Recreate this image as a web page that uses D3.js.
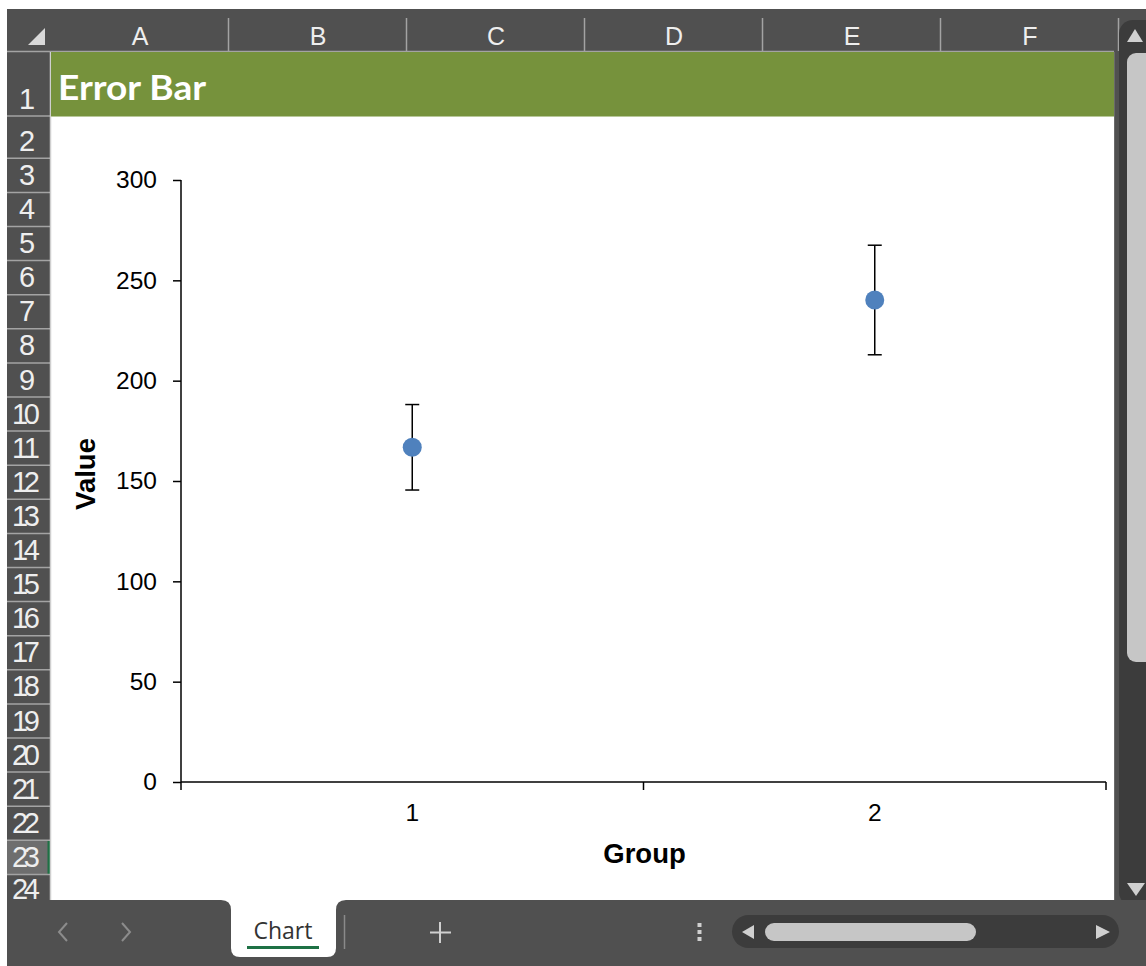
<!DOCTYPE html>
<html>
<head>
<meta charset="utf-8">
<script src="https://cdn.jsdelivr.net/npm/d3@7"></script>
<style>
  html, body { margin: 0; padding: 0; background: #ffffff; }
  svg { display: block; }
</style>
</head>
<body>
<div id="chart"></div>
<script>
// ---- data ----
const title = "Error Bar";
const categories = ["1", "2"];
const means = [166.8, 240.2];
const errors = [21.3, 27.3];
const yTicks = [0, 50, 100, 150, 200, 250, 300];
const xLabel = "Group";
const yLabel = "Value";
const columnLetters = ["A", "B", "C", "D", "E", "F"];
const rowNumbers = d3.range(1, 25);
const sheetName = "Chart";

const W = 1146, H = 966;
const svg = d3.select("#chart").append("svg").attr("width", W).attr("height", H);

const darkGray = "#505050";
const sepGray = "#a3a3a3";
const hdrText = "#eeeeee";

// ---- spreadsheet chrome ----
svg.append("rect").attr("x", 0).attr("y", 0).attr("width", W).attr("height", H).attr("fill", "#ffffff");
svg.append("rect").attr("x", 7).attr("y", 9).attr("width", W - 7).attr("height", 43).attr("fill", darkGray);
svg.append("rect").attr("x", 7).attr("y", 9).attr("width", 44).attr("height", 892).attr("fill", darkGray);
svg.append("rect").attr("x", 1114).attr("y", 9).attr("width", 32).attr("height", 892).attr("fill", darkGray);

// select-all triangle
svg.append("path").attr("d", "M28,45 L45,45 L45,28 Z").attr("fill", "#d9d9d9");

// column letters and separators
const colStart = 51, colW = 178;
columnLetters.forEach((c, i) => {
  svg.append("text").attr("x", colStart + colW * i + colW / 2).attr("y", 45)
    .attr("text-anchor", "middle").attr("font-family", "Liberation Sans, Arial, sans-serif")
    .attr("font-size", 25).attr("fill", hdrText).text(c);
  svg.append("line").attr("x1", colStart + colW * (i + 1) - 0.5).attr("x2", colStart + colW * (i + 1) - 0.5)
    .attr("y1", 18).attr("y2", 51).attr("stroke", sepGray).attr("stroke-width", 1.5);
});
svg.append("line").attr("x1", 7).attr("x2", 1114).attr("y1", 51.5).attr("y2", 51.5)
  .attr("stroke", sepGray).attr("stroke-width", 1.5);

// row boundaries
function rowTop(r) {
  if (r === 1) return 52;
  if (r === 2) return 116;
  return 158.3 + (r - 3) * 34.1;
}
function rowBottom(r) {
  if (r === 24) return 900;
  return rowTop(r + 1);
}
// selected row 23 highlight
svg.append("rect").attr("x", 7).attr("y", rowTop(23)).attr("width", 43).attr("height", rowBottom(23) - rowTop(23))
  .attr("fill", "#6e6e6e");
svg.append("rect").attr("x", 47.5).attr("y", rowTop(23)).attr("width", 3).attr("height", rowBottom(23) - rowTop(23))
  .attr("fill", "#1e7145");

rowNumbers.forEach(r => {
  const yb = rowBottom(r);
  svg.append("text").attr("x", r >= 10 ? 12 : 19).attr("y", r === 24 ? 899 : yb - 7.5)
    .attr("font-family", "Liberation Sans, Arial, sans-serif").attr("font-size", 29)
    .attr("textLength", r >= 10 ? 28 : null)
    .attr("fill", hdrText).text(r);
  if (r < 24) {
    svg.append("line").attr("x1", 7).attr("x2", 50).attr("y1", yb).attr("y2", yb)
      .attr("stroke", sepGray).attr("stroke-width", 1.5);
  }
});
svg.append("line").attr("x1", 50.5).attr("x2", 50.5).attr("y1", 52).attr("y2", 900)
  .attr("stroke", "#cfcfcf").attr("stroke-width", 1.5);

// green title band
svg.append("rect").attr("x", 51).attr("y", 52).attr("width", 1063).attr("height", 64).attr("fill", "#76923c");
svg.append("line").attr("x1", 51).attr("x2", 1114).attr("y1", 116.5).attr("y2", 116.5).attr("stroke", "#b8c89a").attr("stroke-width", 1);
svg.append("text").attr("x", 58).attr("y", 100).attr("font-family", "Lato, 'Open Sans', sans-serif")
  .attr("font-weight", "bold").attr("font-size", 35).attr("textLength", 148).attr("lengthAdjust", "spacingAndGlyphs")
  .attr("fill", "#ffffff").text(title);

// vertical scrollbar
svg.append("line").attr("x1", 1114.5).attr("x2", 1114.5).attr("y1", 52).attr("y2", 901).attr("stroke", "#6a6a6a");
svg.append("rect").attr("x", 1119).attr("y", 20).attr("width", 40).attr("height", 886).attr("rx", 14).attr("fill", "#3c3c3c");
svg.append("path").attr("d", "M1135,29 L1143,42 L1127,42 Z").attr("fill", "#d0d0d0");
svg.append("rect").attr("x", 1127).attr("y", 53).attr("width", 30).attr("height", 609).attr("rx", 9).attr("fill", "#c6c6c6");
svg.append("path").attr("d", "M1127,883 L1145,883 L1136,896 Z").attr("fill", "#d0d0d0");

// bottom tab bar
svg.append("rect").attr("x", 7).attr("y", 900).attr("width", W - 7).attr("height", 66).attr("fill", darkGray);
svg.append("path").attr("d", "M231,896 L336,896 L336,948 Q336,957 327,957 L240,957 Q231,957 231,948 Z").attr("fill", "#ffffff");
svg.append("path").attr("d", "M221,900 Q231,900 231,910 L231,900 Z").attr("fill", "#ffffff");
svg.append("path").attr("d", "M346,900 Q336,900 336,910 L336,900 Z").attr("fill", "#ffffff");
svg.append("text").attr("x", 283).attr("y", 939).attr("text-anchor", "middle")
  .attr("font-family", "'Open Sans', 'Noto Sans', sans-serif").attr("font-size", 23).attr("fill", "#333333").text(sheetName);
svg.append("rect").attr("x", 247).attr("y", 946).attr("width", 72).attr("height", 3).attr("fill", "#1e7145");
svg.append("line").attr("x1", 344.5).attr("x2", 344.5).attr("y1", 915).attr("y2", 949).attr("stroke", "#8a8a8a").attr("stroke-width", 1.5);
svg.append("path").attr("d", "M67,923 L59,932 L67,941").attr("fill", "none").attr("stroke", "#8c8c8c").attr("stroke-width", 2);
svg.append("path").attr("d", "M122,923 L130,932 L122,941").attr("fill", "none").attr("stroke", "#8c8c8c").attr("stroke-width", 2);
svg.append("path").attr("d", "M440,922 L440,943 M430,932.5 L451,932.5").attr("stroke", "#d0d0d0").attr("stroke-width", 2);
[925, 932, 939].forEach(y => svg.append("rect").attr("x", 697.5).attr("y", y - 2).attr("width", 4).attr("height", 4).attr("fill", "#d0d0d0"));
svg.append("rect").attr("x", 732).attr("y", 915).attr("width", 387).attr("height", 33).attr("rx", 16.5).attr("fill", "#3c3c3c");
svg.append("path").attr("d", "M742,932 L754,925 L754,939 Z").attr("fill", "#d0d0d0");
svg.append("rect").attr("x", 765).attr("y", 923).attr("width", 211).attr("height", 18).attr("rx", 9).attr("fill", "#c6c6c6");
svg.append("path").attr("d", "M1110,932 L1096,925 L1096,939 Z").attr("fill", "#d0d0d0");

// ---- chart ----
const plot = { left: 181, right: 1106, top: 180, bottom: 782 };
const x = d3.scaleBand().domain(categories).range([plot.left, plot.right]).paddingInner(0).paddingOuter(0);
const y = d3.scaleLinear().domain([0, 300]).range([plot.bottom, plot.top]);

const chart = svg.append("g");
const fontAxis = "Liberation Sans, Arial, sans-serif";

// y axis
const yAxis = chart.append("g").attr("transform", `translate(${plot.left},0)`)
  .call(d3.axisLeft(y).tickValues(yTicks).tickSize(8).tickPadding(16).tickFormat(d3.format("d")));
yAxis.select(".domain").attr("stroke", "#000").attr("stroke-width", 1.5).attr("d", `M0,${plot.top}V${plot.bottom}`);
yAxis.selectAll(".tick line").attr("stroke", "#000").attr("stroke-width", 1.5);
yAxis.selectAll(".tick text").attr("font-family", fontAxis).attr("font-size", 24.5).attr("fill", "#000");

// x axis
const xAxis = chart.append("g").attr("transform", `translate(0,${plot.bottom})`)
  .call(d3.axisBottom(x).tickSize(0).tickPadding(22));
xAxis.select(".domain").attr("stroke", "#000").attr("stroke-width", 1.5).attr("d", `M${plot.left},0H${plot.right}`);
xAxis.selectAll(".tick text").attr("font-family", fontAxis).attr("font-size", 24.5).attr("fill", "#000");
const bounds = [plot.left].concat(categories.map(c => x(c) + x.bandwidth()));
xAxis.selectAll(".bound").data(bounds).enter().append("line").attr("class", "bound")
  .attr("x1", d => d).attr("x2", d => d).attr("y1", 0).attr("y2", 8)
  .attr("stroke", "#000").attr("stroke-width", 1.5);

// axis titles
chart.append("text").attr("x", (plot.left + plot.right) / 2 + 1).attr("y", 863).attr("text-anchor", "middle")
  .attr("font-family", fontAxis).attr("font-weight", "bold").attr("font-size", 27.5).attr("fill", "#000").text(xLabel);
chart.append("text").attr("transform", `translate(95,${(plot.top + plot.bottom) / 2 - 7}) rotate(-90)`).attr("text-anchor", "middle")
  .attr("font-family", fontAxis).attr("font-weight", "bold").attr("font-size", 27.5).attr("fill", "#000").text(yLabel);

// error bars
const eb = chart.selectAll(".eb").data(categories).enter().append("g").attr("class", "eb");
eb.append("line").attr("x1", (d) => x(d) + x.bandwidth() / 2).attr("x2", (d) => x(d) + x.bandwidth() / 2)
  .attr("y1", (d, i) => y(means[i] + errors[i])).attr("y2", (d, i) => y(means[i] - errors[i]))
  .attr("stroke", "#000").attr("stroke-width", 1.5);
[1, -1].forEach(s => {
  eb.append("line").attr("x1", d => x(d) + x.bandwidth() / 2 - 7).attr("x2", d => x(d) + x.bandwidth() / 2 + 7)
    .attr("y1", (d, i) => y(means[i] + s * errors[i])).attr("y2", (d, i) => y(means[i] + s * errors[i]))
    .attr("stroke", "#000").attr("stroke-width", 1.5);
});
eb.append("circle").attr("cx", d => x(d) + x.bandwidth() / 2).attr("cy", (d, i) => y(means[i]))
  .attr("r", 9.5).attr("fill", "#4f81bd");
</script>
</body>
</html>
